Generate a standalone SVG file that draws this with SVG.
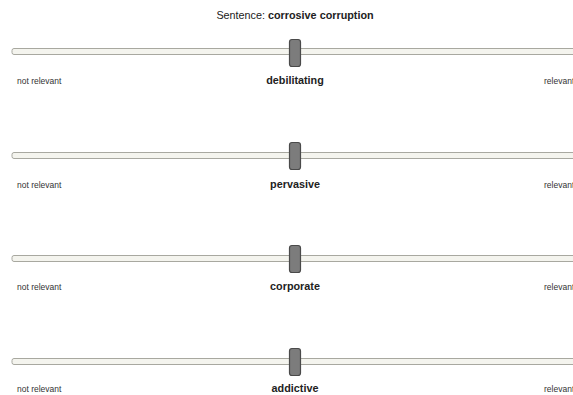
<svg xmlns="http://www.w3.org/2000/svg" width="573" height="395" viewBox="0 0 573 395">
<style>
.t{font-family:"Liberation Sans",Arial,sans-serif;fill:#222}
.small{font-size:8.5px;fill:#333}
.word{font-size:10.8px;font-weight:bold;text-anchor:middle}
.track{fill:#f4f4ee;stroke:#a8a8a0;stroke-width:1}
.handle{fill:#7c7c7c;stroke:#4a4a4a;stroke-width:1.2}
</style>
<rect width="573" height="395" fill="#ffffff"/>
<text class="t" x="295" y="19" font-size="10.8" text-anchor="middle">Sentence: <tspan font-weight="bold">corrosive corruption</tspan></text>
<g id="slider1">
<rect class="track" x="12" y="48.5" width="570" height="6" rx="2"/>
<rect class="handle" x="289.5" y="39.5" width="11" height="27" rx="2.5"/>
<text class="t small" x="17" y="84">not relevant</text>
<text class="t word" x="295" y="84">debilitating</text>
<text class="t small" x="544" y="84">relevant</text>
</g>
<g id="slider2">
<rect class="track" x="12" y="152.5" width="570" height="6" rx="2"/>
<rect class="handle" x="289.5" y="142.5" width="11" height="27" rx="2.5"/>
<text class="t small" x="17" y="188">not relevant</text>
<text class="t word" x="295" y="188">pervasive</text>
<text class="t small" x="544" y="188">relevant</text>
</g>
<g id="slider3">
<rect class="track" x="12" y="255.5" width="570" height="6" rx="2"/>
<rect class="handle" x="289.5" y="245.5" width="11" height="27" rx="2.5"/>
<text class="t small" x="17" y="290">not relevant</text>
<text class="t word" x="295" y="290">corporate</text>
<text class="t small" x="544" y="290">relevant</text>
</g>
<g id="slider4">
<rect class="track" x="12" y="358.5" width="570" height="6" rx="2"/>
<rect class="handle" x="289.5" y="348.5" width="11" height="27" rx="2.5"/>
<text class="t small" x="17" y="392">not relevant</text>
<text class="t word" x="295" y="392">addictive</text>
<text class="t small" x="544" y="392">relevant</text>
</g>
<g id="connectors"></g>
</svg>
